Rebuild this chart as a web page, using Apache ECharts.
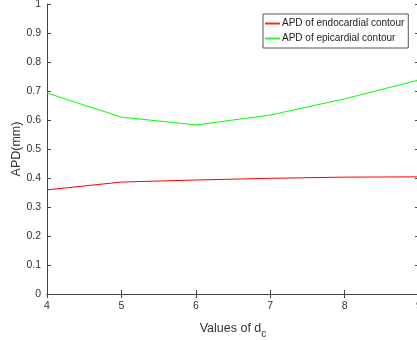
<!DOCTYPE html>
<html><head><meta charset="utf-8">
<script src="https://cdn.jsdelivr.net/npm/echarts@6/dist/echarts.min.js"></script>
<style>html,body{margin:0;padding:0;background:#fff}#c{width:417px;height:340px}</style>
</head><body><div id="c"></div>
<script>
var xValues = [4, 5, 6, 7, 8, 9];
var endoAPD = [0.359, 0.386, 0.393, 0.399, 0.403, 0.404];
var epiAPD = [0.693, 0.610, 0.583, 0.617, 0.673, 0.738];
var yTicks = [0, 0.1, 0.2, 0.3, 0.4, 0.5, 0.6, 0.7, 0.8, 0.9, 1];
var seriesNames = ['APD of endocardial contour', 'APD of epicardial contour'];
var seriesColors = ['#ff0000', '#00ff00'];

var axisColor = '#444';
var font = 'Liberation Sans, Arial, sans-serif';
var chart = echarts.init(document.getElementById('c'));
chart.setOption({
  animation: false,
  color: seriesColors,
  grid: {left: 47, top: 4, width: 372, height: 290, containLabel: false, outerBoundsMode: 'none'},
  xAxis: [{
    type: 'value', min: 4, max: 9, interval: 1,
    axisLine: {lineStyle: {color: axisColor, width: 1}},
    axisTick: {inside: true, length: 4, lineStyle: {color: axisColor}},
    axisLabel: {color: '#333', fontSize: 10.5, fontFamily: font, margin: 7},
    splitLine: {show: false},
    name: '{a|Values of d}{b|c}', nameLocation: 'middle', nameGap: 25, nameMoveOverlap: false,
    nameTextStyle: {rich: {a: {fontSize: 12.5, color: '#333', fontFamily: font}, b: {fontSize: 10, color: '#333', fontFamily: font, padding: [10, 0, 0, 0]}}}
  }, {
    type: 'value', min: 4, max: 9, interval: 1, position: 'top',
    axisLine: {lineStyle: {color: axisColor, width: 1}},
    axisTick: {inside: true, length: 4, lineStyle: {color: axisColor}},
    axisLabel: {show: false}, splitLine: {show: false}
  }],
  yAxis: [{
    type: 'value', min: 0, max: 1, interval: 0.1,
    axisLine: {show: true, lineStyle: {color: axisColor, width: 1}},
    axisTick: {show: true, inside: true, length: 4, lineStyle: {color: axisColor}},
    axisLabel: {color: '#333', fontSize: 10.5, fontFamily: font, margin: 6,
      formatter: function(v){ var t = yTicks.find(function(k){return Math.abs(k-v)<1e-9;}); return t===undefined? '' : String(t); }},
    splitLine: {show: false},
    name: 'APD(mm)', nameLocation: 'middle', nameGap: 24, nameMoveOverlap: false,
    nameTextStyle: {fontSize: 12.5, color: '#333', fontFamily: font}
  }, {
    type: 'value', min: 0, max: 1, interval: 0.1, position: 'right',
    axisLine: {show: true, lineStyle: {color: axisColor, width: 1}},
    axisTick: {show: true, inside: true, length: 4, lineStyle: {color: axisColor}},
    axisLabel: {show: false}, splitLine: {show: false}
  }],
  legend: {
    orient: 'vertical', left: 263, top: 14,
    data: seriesNames.map(function(n, i){ return {name: n, icon: 'rect', itemStyle: {color: seriesColors[i], borderWidth: 0, opacity: 0.85}}; }),
    backgroundColor: '#fff', borderColor: '#555', borderWidth: 1,
    padding: [3, 4, 3, 2], itemGap: 2, itemWidth: 15, itemHeight: 2,
    textStyle: {fontSize: 10, color: '#222', fontFamily: font, padding: [0, 0, 0, -3], height: 13, lineHeight: 13}
  },
  series: [{
    name: seriesNames[0], type: 'line', symbol: 'none', color: seriesColors[0],
    lineStyle: {color: seriesColors[0], width: 1}, itemStyle: {color: seriesColors[0]},
    data: xValues.map(function(x, i){ return [x, endoAPD[i]]; })
  }, {
    name: seriesNames[1], type: 'line', symbol: 'none', color: seriesColors[1],
    lineStyle: {color: seriesColors[1], width: 1}, itemStyle: {color: seriesColors[1]},
    data: xValues.map(function(x, i){ return [x, epiAPD[i]]; })
  }]
});
</script></body></html>
